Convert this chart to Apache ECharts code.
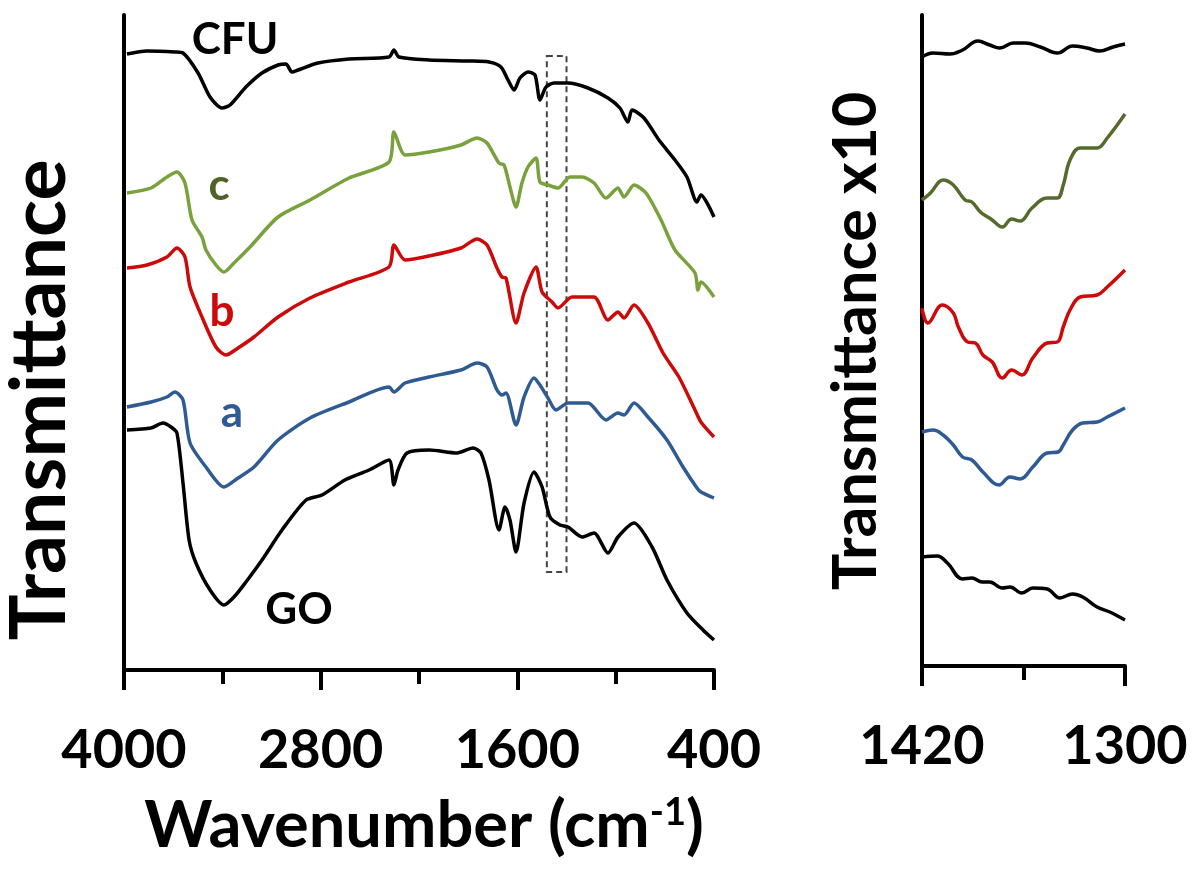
<!DOCTYPE html>
<html>
<head>
<meta charset="utf-8">
<script src="https://cdn.jsdelivr.net/npm/echarts@6/dist/echarts.min.js"></script>
<style>
  html, body { margin: 0; padding: 0; background: #fff; }
  #chart { width: 1192px; height: 872px; }
</style>
</head>
<body>
<div id="chart"></div>
<script>
// FTIR spectra: [wavenumber (cm-1), transmittance (offset, a.u.)]
const cfuFull = [[3982,61.6],[3860,61.9],[3689,61.8],[3640,61.7],[3548,59.7],[3475,57.3],[3402,56.2],[3353,56.5],[3256,58.3],[3158,59.7],[3060,60.5],[3012,60.6],[2975,59.8],[2938,60.0],[2816,60.7],[2627,61.1],[2383,61.3],[2353,62.0],[2322,61.3],[2139,61.0],[1895,60.9],[1773,60.8],[1700,60.3],[1657,59.0],[1620,58.0],[1584,59.2],[1535,59.8],[1492,59.5],[1462,57.0],[1425,58.3],[1376,58.7],[1291,58.7],[1169,58.2],[1047,57.2],[974,56.2],[925,54.8],[900,56.0],[827,55.2],[736,53.0],[638,51.0],[565,49.3],[504,46.8],[480,47.5],[400,45.3]];
const sampleC = [[3982,47.7],[3835,48.2],[3738,49.3],[3677,49.8],[3628,48.7],[3585,45.0],[3524,43.3],[3500,42.0],[3439,40.5],[3390,39.8],[3329,40.7],[3231,42.3],[3060,45.3],[2865,47.0],[2627,49.2],[2383,50.8],[2353,53.8],[2285,51.5],[2139,51.8],[1944,52.5],[1846,53.2],[1785,52.7],[1712,50.7],[1681,50.5],[1645,48.3],[1608,46.3],[1572,48.7],[1535,50.3],[1486,51.2],[1462,48.8],[1413,48.5],[1352,48.2],[1279,49.3],[1205,49.3],[1132,48.7],[1059,47.2],[986,48.2],[949,47.3],[888,48.5],[815,47.7],[723,45.0],[638,42.0],[516,39.7],[498,38.0],[480,38.8],[400,37.3]];
const sampleB = [[3982,40.2],[3860,40.5],[3738,41.3],[3677,42.2],[3628,41.3],[3597,38.3],[3524,35.3],[3439,32.3],[3378,31.5],[3304,32.2],[3207,33.3],[3060,35.3],[2865,37.2],[2627,38.8],[2383,40.3],[2353,42.5],[2285,41.0],[2139,41.4],[1944,42.2],[1846,43.1],[1785,42.5],[1724,40.2],[1694,39.3],[1669,39.2],[1608,34.7],[1559,37.7],[1486,40.3],[1449,37.8],[1388,36.8],[1352,36.2],[1266,37.3],[1132,37.3],[1047,35.0],[986,35.8],[949,35.2],[888,36.5],[803,34.7],[711,31.7],[614,29.3],[516,26.0],[480,24.8],[400,23.3]];
const sampleA = [[3982,26.3],[3835,26.8],[3738,27.3],[3689,27.8],[3640,27.0],[3597,22.7],[3500,20.3],[3390,18.3],[3304,19.2],[3207,20.3],[3060,23.0],[2865,25.2],[2627,26.8],[2383,28.3],[2353,27.8],[2285,28.7],[2139,29.3],[1944,30.0],[1846,30.7],[1785,30.3],[1724,28.0],[1694,27.5],[1669,27.7],[1608,24.5],[1559,27.3],[1498,29.2],[1462,28.5],[1413,27.2],[1364,26.0],[1291,26.7],[1169,26.7],[1059,25.0],[986,25.7],[949,25.5],[888,26.7],[803,25.3],[687,23.0],[589,20.3],[504,18.2],[480,17.8],[400,17.2]];
const goFull = [[3982,24.0],[3835,24.2],[3762,24.7],[3713,24.3],[3677,23.7],[3640,18.7],[3603,13.0],[3561,10.7],[3475,8.0],[3390,6.5],[3329,7.3],[3256,8.8],[3158,11.0],[3036,14.0],[2889,17.0],[2792,17.5],[2652,19.0],[2505,20.0],[2383,21.0],[2353,18.5],[2328,20.0],[2273,21.7],[2139,22.0],[1968,21.7],[1871,22.2],[1822,21.7],[1773,19.0],[1712,14.0],[1675,16.3],[1645,15.0],[1608,11.8],[1559,16.7],[1498,19.8],[1449,18.3],[1401,15.3],[1340,14.5],[1291,14.3],[1205,13.3],[1132,13.7],[1047,11.7],[986,13.3],[888,14.7],[778,12.3],[687,9.0],[565,5.7],[467,4.0],[400,3.0]];

// 1420–1300 cm-1 window, transmittance scaled x10
const cfuZoom = [[1420,60.9],[1413.5,61.3],[1403.5,61.2],[1396,61.6],[1387,62.5],[1380,62.1],[1374,61.8],[1366,62.3],[1359,62.3],[1350,61.9],[1340,61.3],[1331,62.0],[1322.5,61.8],[1315,61.5],[1307,61.9],[1300,62.2]];
const cZoom = [[1420,46.6],[1415,47.3],[1407.5,48.6],[1401.5,48.1],[1394.5,46.6],[1390.5,46.4],[1385.5,45.4],[1378.5,44.6],[1372.5,43.9],[1367,44.7],[1362,44.5],[1355,45.8],[1346,46.8],[1340,46.8],[1336.5,48.1],[1332.5,50.6],[1326.5,51.8],[1316.5,51.8],[1310.5,52.8],[1300,55.2]];
const bZoom = [[1420,35.8],[1416.5,34.3],[1408,36.1],[1401.5,35.3],[1398.5,33.9],[1393,32.4],[1388.5,32.3],[1384,31.1],[1378.5,30.4],[1372.5,28.8],[1367,29.6],[1361,29.1],[1354.5,30.8],[1346,32.3],[1340,32.4],[1336.5,33.9],[1332.5,35.6],[1326.5,36.9],[1316.5,37.1],[1310.5,37.9],[1300,39.6]];
const aZoom = [[1420,23.4],[1413.5,23.6],[1407.5,23.1],[1401.5,22.1],[1396,20.9],[1390.5,20.6],[1384,19.4],[1374.5,18.1],[1368,18.9],[1362,18.7],[1354.5,19.9],[1346,21.3],[1339.5,21.4],[1336.5,22.1],[1331,23.6],[1325,24.3],[1316.5,24.4],[1310.5,24.9],[1300,25.8]];
const goZoom = [[1420,10.9],[1411,11.0],[1405,10.3],[1396,8.7],[1390.5,8.8],[1384.5,8.4],[1380,8.4],[1372.5,7.8],[1368,7.9],[1361,7.3],[1354.5,7.8],[1346,7.7],[1338.5,6.8],[1331,7.2],[1325,6.9],[1316.5,5.9],[1309,5.4],[1300,4.6]];

// Tick labels shown on each wavenumber axis
const leftTickLabels = [4000, 2800, 1600, 400];
const rightTickLabels = [1420, 1300];

// Highlighted window on the full spectra
const windowRange = { from: 1420, to: 1300, top: 61.4, bottom: 9.8 };

const FONT = 'Lato, "Open Sans", sans-serif';
const colors = {
  cfu: '#000000', c: '#79a23d', cDark: '#556b2c', cLabel: '#4f6228',
  b: '#cc0a0a', a: '#2f5b94', go: '#000000'
};

function xAxisDef(gridIndex, min, max, interval, labels, nameOpts) {
  return Object.assign({
    type: 'value', gridIndex, min, max, interval, inverse: true,
    axisLine: { show: true, onZero: false, lineStyle: { color: '#000', width: 4 } },
    axisTick: { show: true, inside: false, length: 20, lineStyle: { color: '#000', width: 4 } },
    minorTick: { show: true, splitNumber: 2, length: 14, lineStyle: { color: '#000', width: 4 } },
    splitLine: { show: false },
    axisLabel: {
      margin: 54, fontFamily: FONT, fontWeight: 'bold', fontSize: 54, color: '#000',
      showMinLabel: true, showMaxLabel: true,
      formatter: v => labels.includes(v) ? String(v) : ''
    }
  }, nameOpts || {});
}

function yAxisDef(gridIndex, max) {
  return {
    type: 'value', gridIndex, min: 0, max,
    axisLine: { show: true, lineStyle: { color: '#000', width: 4 } },
    axisTick: { show: false }, axisLabel: { show: false }, splitLine: { show: false }
  };
}

function lineSeries(data, color, xi, smooth, extra) {
  return Object.assign({
    type: 'line', data, xAxisIndex: xi, yAxisIndex: xi, symbol: 'none',
    smooth, lineStyle: { color, width: 3.5 }, silent: true, animation: false
  }, extra || {});
}

function label(text, x, y, fill, size) {
  return {
    type: 'text', x, y,
    style: { text, font: 'bold ' + size + 'px ' + FONT, fill, textAlign: 'center', textVerticalAlign: 'middle' }
  };
}

const chart = echarts.init(document.getElementById('chart'), null, { renderer: 'canvas' });

chart.setOption({
  animation: false,
  backgroundColor: '#fff',
  grid: [
    { left: 124, top: 15, width: 590, height: 655 },
    { left: 922, top: 15, width: 203, height: 651 }
  ],
  xAxis: [
    xAxisDef(0, 400, 4000, 1200, leftTickLabels, {
      name: '{t|Wavenumber (cm}{s|-1}{t|)}',
      nameLocation: 'middle', nameGap: 124,
      nameTextStyle: {
        padding: [0, 0, 0, 10],
        rich: {
          t: { fontFamily: FONT, fontWeight: 'bold', fontSize: 65, color: '#000' },
          s: { fontFamily: FONT, fontWeight: 'bold', fontSize: 38, color: '#000', verticalAlign: 'top' }
        }
      }
    }),
    xAxisDef(1, 1300, 1420, 120, rightTickLabels)
  ],
  yAxis: [yAxisDef(0, 65.5), yAxisDef(1, 65.1)],
  series: [
    lineSeries(cfuFull, colors.cfu, 0, 0.25, {
      markArea: {
        silent: true,
        itemStyle: { color: 'rgba(0,0,0,0)', borderColor: '#444', borderWidth: 2, borderType: [6, 4] },
        data: [[
          { xAxis: windowRange.from, yAxis: windowRange.top },
          { xAxis: windowRange.to, yAxis: windowRange.bottom }
        ]]
      }
    }),
    lineSeries(sampleC, colors.c, 0, 0.25),
    lineSeries(sampleB, colors.b, 0, 0.25),
    lineSeries(sampleA, colors.a, 0, 0.25),
    lineSeries(goFull, colors.go, 0, 0.25),
    lineSeries(cfuZoom, colors.cfu, 1, 0.4),
    lineSeries(cZoom, colors.cDark, 1, 0.4),
    lineSeries(bZoom, colors.b, 1, 0.4),
    lineSeries(aZoom, colors.a, 1, 0.4),
    lineSeries(goZoom, colors.go, 1, 0.4)
  ],
  graphic: [
    Object.assign(label('Transmittance', 40, 400, '#000', 77), { rotation: Math.PI / 2 }),
    Object.assign(label('Transmittance x10', 856, 341, '#000', 61), { rotation: Math.PI / 2 }),
    label('CFU', 235, 40, colors.cfu, 44),
    label('c', 219, 186, colors.cLabel, 44),
    label('b', 222, 312, colors.b, 44),
    label('a', 232, 413, colors.a, 44),
    label('GO', 299, 610, colors.go, 44)
  ]
});
</script>
</body>
</html>
